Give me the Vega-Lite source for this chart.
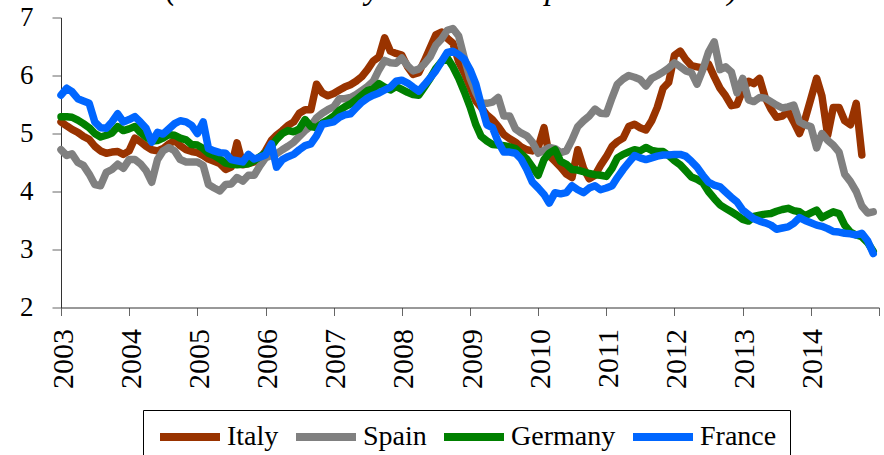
{
  "$schema": "https://vega.github.io/schema/vega-lite/v6.json",
  "width": 818,
  "height": 290,
  "autosize": {"type": "none"},
  "padding": {"left": 61, "top": 17.5, "right": 5, "bottom": 147.5},
  "background": "white",
  "title": {"text": "(% new monthly rates to the private sector)", "font": "Liberation Serif", "fontStyle": "italic", "fontWeight": "normal", "fontSize": 33, "color": "black", "anchor": "middle", "frame": "group", "baseline": "alphabetic", "dx": -18, "dy": 18, "offset": -10},
  "datasets": {
    "rates": [
      {"date": "2003-01-01", "Italy": 5.20, "Spain": 4.72, "Germany": 5.29, "France": 5.66},
      {"date": "2003-02-01", "Italy": 5.13, "Spain": 4.62, "Germany": 5.29, "France": 5.78},
      {"date": "2003-03-01", "Italy": 5.07, "Spain": 4.65, "Germany": 5.28, "France": 5.72},
      {"date": "2003-04-01", "Italy": 5.02, "Spain": 4.50, "Germany": 5.23, "France": 5.60},
      {"date": "2003-05-01", "Italy": 4.95, "Spain": 4.45, "Germany": 5.17, "France": 5.56},
      {"date": "2003-06-01", "Italy": 4.90, "Spain": 4.30, "Germany": 5.10, "France": 5.52},
      {"date": "2003-07-01", "Italy": 4.78, "Spain": 4.12, "Germany": 5.00, "France": 5.20},
      {"date": "2003-08-01", "Italy": 4.70, "Spain": 4.10, "Germany": 4.94, "France": 5.10},
      {"date": "2003-09-01", "Italy": 4.66, "Spain": 4.33, "Germany": 4.97, "France": 5.09},
      {"date": "2003-10-01", "Italy": 4.68, "Spain": 4.38, "Germany": 5.01, "France": 5.20},
      {"date": "2003-11-01", "Italy": 4.69, "Spain": 4.47, "Germany": 5.12, "France": 5.34},
      {"date": "2003-12-01", "Italy": 4.64, "Spain": 4.40, "Germany": 5.05, "France": 5.20},
      {"date": "2004-01-01", "Italy": 4.70, "Spain": 4.55, "Germany": 5.08, "France": 5.24},
      {"date": "2004-02-01", "Italy": 4.92, "Spain": 4.55, "Germany": 5.12, "France": 5.29},
      {"date": "2004-03-01", "Italy": 4.86, "Spain": 4.48, "Germany": 5.02, "France": 5.20},
      {"date": "2004-04-01", "Italy": 4.78, "Spain": 4.36, "Germany": 4.94, "France": 5.09},
      {"date": "2004-05-01", "Italy": 4.72, "Spain": 4.16, "Germany": 4.87, "France": 4.85},
      {"date": "2004-06-01", "Italy": 4.70, "Spain": 4.55, "Germany": 4.88, "France": 5.02},
      {"date": "2004-07-01", "Italy": 4.74, "Spain": 4.70, "Germany": 4.92, "France": 4.99},
      {"date": "2004-08-01", "Italy": 4.82, "Spain": 4.76, "Germany": 4.98, "France": 5.08},
      {"date": "2004-09-01", "Italy": 4.88, "Spain": 4.70, "Germany": 4.97, "France": 5.17},
      {"date": "2004-10-01", "Italy": 4.79, "Spain": 4.55, "Germany": 4.92, "France": 5.22},
      {"date": "2004-11-01", "Italy": 4.72, "Spain": 4.51, "Germany": 4.89, "France": 5.20},
      {"date": "2004-12-01", "Italy": 4.69, "Spain": 4.51, "Germany": 4.81, "France": 5.14},
      {"date": "2005-01-01", "Italy": 4.67, "Spain": 4.51, "Germany": 4.80, "France": 5.00},
      {"date": "2005-02-01", "Italy": 4.62, "Spain": 4.45, "Germany": 4.74, "France": 5.20},
      {"date": "2005-03-01", "Italy": 4.56, "Spain": 4.12, "Germany": 4.66, "France": 4.74},
      {"date": "2005-04-01", "Italy": 4.52, "Spain": 4.06, "Germany": 4.62, "France": 4.70},
      {"date": "2005-05-01", "Italy": 4.48, "Spain": 4.01, "Germany": 4.56, "France": 4.67},
      {"date": "2005-06-01", "Italy": 4.38, "Spain": 4.12, "Germany": 4.49, "France": 4.66},
      {"date": "2005-07-01", "Italy": 4.42, "Spain": 4.13, "Germany": 4.47, "France": 4.55},
      {"date": "2005-08-01", "Italy": 4.84, "Spain": 4.24, "Germany": 4.46, "France": 4.53},
      {"date": "2005-09-01", "Italy": 4.46, "Spain": 4.18, "Germany": 4.47, "France": 4.51},
      {"date": "2005-10-01", "Italy": 4.48, "Spain": 4.28, "Germany": 4.48, "France": 4.64},
      {"date": "2005-11-01", "Italy": 4.51, "Spain": 4.28, "Germany": 4.53, "France": 4.56},
      {"date": "2005-12-01", "Italy": 4.56, "Spain": 4.44, "Germany": 4.60, "France": 4.59},
      {"date": "2006-01-01", "Italy": 4.70, "Spain": 4.58, "Germany": 4.66, "France": 4.63},
      {"date": "2006-02-01", "Italy": 4.88, "Spain": 4.62, "Germany": 4.78, "France": 4.82},
      {"date": "2006-03-01", "Italy": 4.97, "Spain": 4.65, "Germany": 4.90, "France": 4.42},
      {"date": "2006-04-01", "Italy": 5.05, "Spain": 4.72, "Germany": 5.00, "France": 4.55},
      {"date": "2006-05-01", "Italy": 5.14, "Spain": 4.78, "Germany": 5.05, "France": 4.60},
      {"date": "2006-06-01", "Italy": 5.20, "Spain": 4.85, "Germany": 5.03, "France": 4.64},
      {"date": "2006-07-01", "Italy": 5.35, "Spain": 4.95, "Germany": 5.08, "France": 4.72},
      {"date": "2006-08-01", "Italy": 5.41, "Spain": 5.05, "Germany": 5.24, "France": 4.79},
      {"date": "2006-09-01", "Italy": 5.41, "Spain": 5.13, "Germany": 5.12, "France": 4.82},
      {"date": "2006-10-01", "Italy": 5.85, "Spain": 5.27, "Germany": 5.10, "France": 4.96},
      {"date": "2006-11-01", "Italy": 5.70, "Spain": 5.35, "Germany": 5.18, "France": 5.16},
      {"date": "2006-12-01", "Italy": 5.65, "Spain": 5.41, "Germany": 5.23, "France": 5.18},
      {"date": "2007-01-01", "Italy": 5.69, "Spain": 5.46, "Germany": 5.30, "France": 5.20},
      {"date": "2007-02-01", "Italy": 5.75, "Spain": 5.60, "Germany": 5.40, "France": 5.28},
      {"date": "2007-03-01", "Italy": 5.80, "Spain": 5.60, "Germany": 5.46, "France": 5.32},
      {"date": "2007-04-01", "Italy": 5.84, "Spain": 5.62, "Germany": 5.51, "France": 5.34},
      {"date": "2007-05-01", "Italy": 5.90, "Spain": 5.67, "Germany": 5.58, "France": 5.44},
      {"date": "2007-06-01", "Italy": 5.98, "Spain": 5.74, "Germany": 5.66, "France": 5.54},
      {"date": "2007-07-01", "Italy": 6.10, "Spain": 5.81, "Germany": 5.74, "France": 5.61},
      {"date": "2007-08-01", "Italy": 6.25, "Spain": 5.90, "Germany": 5.77, "France": 5.66},
      {"date": "2007-09-01", "Italy": 6.32, "Spain": 6.10, "Germany": 5.86, "France": 5.70},
      {"date": "2007-10-01", "Italy": 6.65, "Spain": 6.26, "Germany": 5.80, "France": 5.75},
      {"date": "2007-11-01", "Italy": 6.42, "Spain": 6.22, "Germany": 5.75, "France": 5.80},
      {"date": "2007-12-01", "Italy": 6.38, "Spain": 6.21, "Germany": 5.81, "France": 5.90},
      {"date": "2008-01-01", "Italy": 6.35, "Spain": 6.30, "Germany": 5.76, "France": 5.92},
      {"date": "2008-02-01", "Italy": 6.15, "Spain": 6.17, "Germany": 5.71, "France": 5.87},
      {"date": "2008-03-01", "Italy": 6.02, "Spain": 6.08, "Germany": 5.67, "France": 5.80},
      {"date": "2008-04-01", "Italy": 6.05, "Spain": 6.11, "Germany": 5.66, "France": 5.73},
      {"date": "2008-05-01", "Italy": 6.25, "Spain": 6.20, "Germany": 5.80, "France": 5.84},
      {"date": "2008-06-01", "Italy": 6.48, "Spain": 6.32, "Germany": 5.95, "France": 5.96},
      {"date": "2008-07-01", "Italy": 6.70, "Spain": 6.52, "Germany": 6.12, "France": 6.08},
      {"date": "2008-08-01", "Italy": 6.75, "Spain": 6.63, "Germany": 6.24, "France": 6.24},
      {"date": "2008-09-01", "Italy": 6.64, "Spain": 6.78, "Germany": 6.30, "France": 6.40},
      {"date": "2008-10-01", "Italy": 6.56, "Spain": 6.81, "Germany": 6.15, "France": 6.42},
      {"date": "2008-11-01", "Italy": 6.24, "Spain": 6.68, "Germany": 5.95, "France": 6.36},
      {"date": "2008-12-01", "Italy": 6.04, "Spain": 6.30, "Germany": 5.72, "France": 6.28},
      {"date": "2009-01-01", "Italy": 5.80, "Spain": 5.95, "Germany": 5.46, "France": 6.10},
      {"date": "2009-02-01", "Italy": 5.56, "Spain": 5.70, "Germany": 5.15, "France": 5.85},
      {"date": "2009-03-01", "Italy": 5.45, "Spain": 5.52, "Germany": 4.95, "France": 5.50},
      {"date": "2009-04-01", "Italy": 5.32, "Spain": 5.52, "Germany": 4.87, "France": 5.15},
      {"date": "2009-05-01", "Italy": 5.24, "Spain": 5.54, "Germany": 4.81, "France": 5.10},
      {"date": "2009-06-01", "Italy": 5.12, "Spain": 5.62, "Germany": 4.80, "France": 4.85},
      {"date": "2009-07-01", "Italy": 4.98, "Spain": 5.30, "Germany": 4.79, "France": 4.68},
      {"date": "2009-08-01", "Italy": 4.91, "Spain": 5.30, "Germany": 4.77, "France": 4.68},
      {"date": "2009-09-01", "Italy": 4.85, "Spain": 5.08, "Germany": 4.74, "France": 4.66},
      {"date": "2009-10-01", "Italy": 4.77, "Spain": 5.01, "Germany": 4.65, "France": 4.56},
      {"date": "2009-11-01", "Italy": 4.72, "Spain": 4.96, "Germany": 4.56, "France": 4.38},
      {"date": "2009-12-01", "Italy": 4.70, "Spain": 4.85, "Germany": 4.42, "France": 4.16},
      {"date": "2010-01-01", "Italy": 4.76, "Spain": 4.66, "Germany": 4.28, "France": 4.06},
      {"date": "2010-02-01", "Italy": 5.10, "Spain": 4.71, "Germany": 4.55, "France": 3.95},
      {"date": "2010-03-01", "Italy": 4.62, "Spain": 4.76, "Germany": 4.66, "France": 3.80},
      {"date": "2010-04-01", "Italy": 4.52, "Spain": 4.74, "Germany": 4.72, "France": 3.98},
      {"date": "2010-05-01", "Italy": 4.42, "Spain": 4.67, "Germany": 4.52, "France": 3.96},
      {"date": "2010-06-01", "Italy": 4.30, "Spain": 4.70, "Germany": 4.47, "France": 3.98},
      {"date": "2010-07-01", "Italy": 4.24, "Spain": 4.89, "Germany": 4.38, "France": 4.10},
      {"date": "2010-08-01", "Italy": 4.72, "Spain": 5.12, "Germany": 4.37, "France": 4.03},
      {"date": "2010-09-01", "Italy": 4.40, "Spain": 5.22, "Germany": 4.34, "France": 3.98},
      {"date": "2010-10-01", "Italy": 4.22, "Spain": 5.30, "Germany": 4.31, "France": 4.06},
      {"date": "2010-11-01", "Italy": 4.28, "Spain": 5.42, "Germany": 4.29, "France": 4.10},
      {"date": "2010-12-01", "Italy": 4.45, "Spain": 5.35, "Germany": 4.28, "France": 4.03},
      {"date": "2011-01-01", "Italy": 4.60, "Spain": 5.34, "Germany": 4.26, "France": 4.06},
      {"date": "2011-02-01", "Italy": 4.78, "Spain": 5.62, "Germany": 4.40, "France": 4.10},
      {"date": "2011-03-01", "Italy": 4.86, "Spain": 5.85, "Germany": 4.58, "France": 4.24},
      {"date": "2011-04-01", "Italy": 4.92, "Spain": 5.94, "Germany": 4.64, "France": 4.38},
      {"date": "2011-05-01", "Italy": 5.12, "Spain": 6.00, "Germany": 4.68, "France": 4.50},
      {"date": "2011-06-01", "Italy": 5.16, "Spain": 5.97, "Germany": 4.72, "France": 4.62},
      {"date": "2011-07-01", "Italy": 5.10, "Spain": 5.93, "Germany": 4.70, "France": 4.58},
      {"date": "2011-08-01", "Italy": 5.06, "Spain": 5.82, "Germany": 4.76, "France": 4.55},
      {"date": "2011-09-01", "Italy": 5.22, "Spain": 5.95, "Germany": 4.71, "France": 4.58},
      {"date": "2011-10-01", "Italy": 5.45, "Spain": 6.00, "Germany": 4.69, "France": 4.61},
      {"date": "2011-11-01", "Italy": 5.78, "Spain": 6.06, "Germany": 4.69, "France": 4.63},
      {"date": "2011-12-01", "Italy": 5.88, "Spain": 6.13, "Germany": 4.62, "France": 4.63},
      {"date": "2012-01-01", "Italy": 6.35, "Spain": 6.22, "Germany": 4.53, "France": 4.64},
      {"date": "2012-02-01", "Italy": 6.42, "Spain": 6.15, "Germany": 4.46, "France": 4.64},
      {"date": "2012-03-01", "Italy": 6.28, "Spain": 6.08, "Germany": 4.36, "France": 4.61},
      {"date": "2012-04-01", "Italy": 6.17, "Spain": 6.05, "Germany": 4.25, "France": 4.52},
      {"date": "2012-05-01", "Italy": 6.15, "Spain": 5.85, "Germany": 4.21, "France": 4.42},
      {"date": "2012-06-01", "Italy": 6.13, "Spain": 6.10, "Germany": 4.15, "France": 4.28},
      {"date": "2012-07-01", "Italy": 6.20, "Spain": 6.40, "Germany": 4.00, "France": 4.16},
      {"date": "2012-08-01", "Italy": 5.98, "Spain": 6.58, "Germany": 3.88, "France": 4.11},
      {"date": "2012-09-01", "Italy": 5.78, "Spain": 6.10, "Germany": 3.77, "France": 4.08},
      {"date": "2012-10-01", "Italy": 5.65, "Spain": 6.15, "Germany": 3.71, "France": 3.99},
      {"date": "2012-11-01", "Italy": 5.48, "Spain": 6.06, "Germany": 3.65, "France": 3.90},
      {"date": "2012-12-01", "Italy": 5.50, "Spain": 5.70, "Germany": 3.59, "France": 3.82},
      {"date": "2013-01-01", "Italy": 5.75, "Spain": 5.95, "Germany": 3.52, "France": 3.68},
      {"date": "2013-02-01", "Italy": 5.90, "Spain": 5.58, "Germany": 3.49, "France": 3.60},
      {"date": "2013-03-01", "Italy": 5.86, "Spain": 5.55, "Germany": 3.57, "France": 3.53},
      {"date": "2013-04-01", "Italy": 5.95, "Spain": 5.62, "Germany": 3.59, "France": 3.49},
      {"date": "2013-05-01", "Italy": 5.62, "Spain": 5.61, "Germany": 3.61, "France": 3.46},
      {"date": "2013-06-01", "Italy": 5.42, "Spain": 5.55, "Germany": 3.62, "France": 3.42},
      {"date": "2013-07-01", "Italy": 5.28, "Spain": 5.49, "Germany": 3.66, "France": 3.35},
      {"date": "2013-08-01", "Italy": 5.30, "Spain": 5.44, "Germany": 3.69, "France": 3.37},
      {"date": "2013-09-01", "Italy": 5.38, "Spain": 5.46, "Germany": 3.71, "France": 3.39},
      {"date": "2013-10-01", "Italy": 5.20, "Spain": 5.49, "Germany": 3.67, "France": 3.45},
      {"date": "2013-11-01", "Italy": 5.00, "Spain": 5.20, "Germany": 3.65, "France": 3.55},
      {"date": "2013-12-01", "Italy": 5.25, "Spain": 5.15, "Germany": 3.58, "France": 3.50},
      {"date": "2014-01-01", "Italy": 5.60, "Spain": 5.12, "Germany": 3.63, "France": 3.46},
      {"date": "2014-02-01", "Italy": 5.95, "Spain": 4.75, "Germany": 3.68, "France": 3.42},
      {"date": "2014-03-01", "Italy": 5.65, "Spain": 5.00, "Germany": 3.55, "France": 3.40},
      {"date": "2014-04-01", "Italy": 4.97, "Spain": 4.88, "Germany": 3.60, "France": 3.36},
      {"date": "2014-05-01", "Italy": 5.45, "Spain": 4.80, "Germany": 3.65, "France": 3.31},
      {"date": "2014-06-01", "Italy": 5.45, "Spain": 4.68, "Germany": 3.62, "France": 3.30},
      {"date": "2014-07-01", "Italy": 5.22, "Spain": 4.30, "Germany": 3.42, "France": 3.28},
      {"date": "2014-08-01", "Italy": 5.15, "Spain": 4.17, "Germany": 3.30, "France": 3.27},
      {"date": "2014-09-01", "Italy": 5.52, "Spain": 4.00, "Germany": 3.25, "France": 3.25},
      {"date": "2014-10-01", "Italy": 4.63, "Spain": 3.75, "Germany": 3.22, "France": 3.28},
      {"date": "2014-11-01", "Spain": 3.63, "Germany": 3.12, "France": 3.15},
      {"date": "2014-12-01", "Spain": 3.65, "Germany": 2.97, "France": 2.93}
    ]
  },
  "data": {"name": "rates"},
  "transform": [
    {"fold": ["Italy", "Spain", "Germany", "France"], "as": ["country", "rate"]},
    {"filter": "isValid(datum.rate)"}
  ],
  "mark": {"type": "line", "strokeWidth": 7.5, "strokeCap": "round", "strokeJoin": "round"},
  "encoding": {
    "x": {
      "field": "date",
      "type": "temporal",
      "scale": {"type": "utc", "domain": [{"year": 2003, "month": 1, "date": 1, "utc": true}, {"year": 2015, "month": 1, "date": 1, "utc": true}]},
      "axis": {
        "values": [
          {"year": 2003, "month": 1, "date": 1, "utc": true},
          {"year": 2004, "month": 1, "date": 1, "utc": true},
          {"year": 2005, "month": 1, "date": 1, "utc": true},
          {"year": 2006, "month": 1, "date": 1, "utc": true},
          {"year": 2007, "month": 1, "date": 1, "utc": true},
          {"year": 2008, "month": 1, "date": 1, "utc": true},
          {"year": 2009, "month": 1, "date": 1, "utc": true},
          {"year": 2010, "month": 1, "date": 1, "utc": true},
          {"year": 2011, "month": 1, "date": 1, "utc": true},
          {"year": 2012, "month": 1, "date": 1, "utc": true},
          {"year": 2013, "month": 1, "date": 1, "utc": true},
          {"year": 2014, "month": 1, "date": 1, "utc": true},
          {"year": 2015, "month": 1, "date": 1, "utc": true}
        ],
        "format": "%Y",
        "formatType": "utc",
        "labelExpr": "utcyear(datum.value) >= 2015 ? '' : datum.label",
        "labelAngle": -90,
        "labelFont": "Liberation Serif",
        "labelFontSize": 30,
        "labelColor": "black",
        "labelPadding": 13,
        "labelOffset": 2,
        "labelOverlap": false,
        "labelFlush": false,
        "labelBound": false,
        "tickSize": 8,
        "tickColor": "#666666",
        "domainColor": "#333333",
        "grid": false,
        "title": null
      }
    },
    "y": {
      "field": "rate",
      "type": "quantitative",
      "scale": {"domain": [2, 7], "nice": false, "zero": false},
      "axis": {
        "values": [2, 3, 4, 5, 6, 7],
        "labelFont": "Liberation Serif",
        "labelFontSize": 27,
        "labelColor": "black",
        "labelPadding": 19,
        "labelFlush": false,
        "labelOverlap": false,
        "tickSize": 9,
        "tickColor": "#666666",
        "domainColor": "#333333",
        "grid": false,
        "title": null
      }
    },
    "color": {
      "field": "country",
      "type": "nominal",
      "scale": {"domain": ["Italy", "Spain", "Germany", "France"], "range": ["#993300", "#808080", "#008000", "#0066FF"]},
      "legend": {
        "orient": "none",
        "legendX": 82,
        "legendY": 392.5,
        "direction": "horizontal",
        "columns": 4,
        "title": null,
        "symbolType": "stroke",
        "symbolSize": 3600,
        "symbolStrokeWidth": 8,
        "clipHeight": 28,
        "labelFont": "Liberation Serif",
        "labelFontSize": 28,
        "labelFontWeight": "normal",
        "labelColor": "black",
        "labelOffset": 3,
        "labelLimit": 300,
        "columnPadding": 13,
        "padding": 13,
        "strokeColor": "black"
      }
    }
  },
  "config": {
    "font": "Liberation Serif",
    "view": {"stroke": null},
    "legend": {"labelFont": "Liberation Serif"},
    "axis": {"labelFont": "Liberation Serif"}
  }
}
